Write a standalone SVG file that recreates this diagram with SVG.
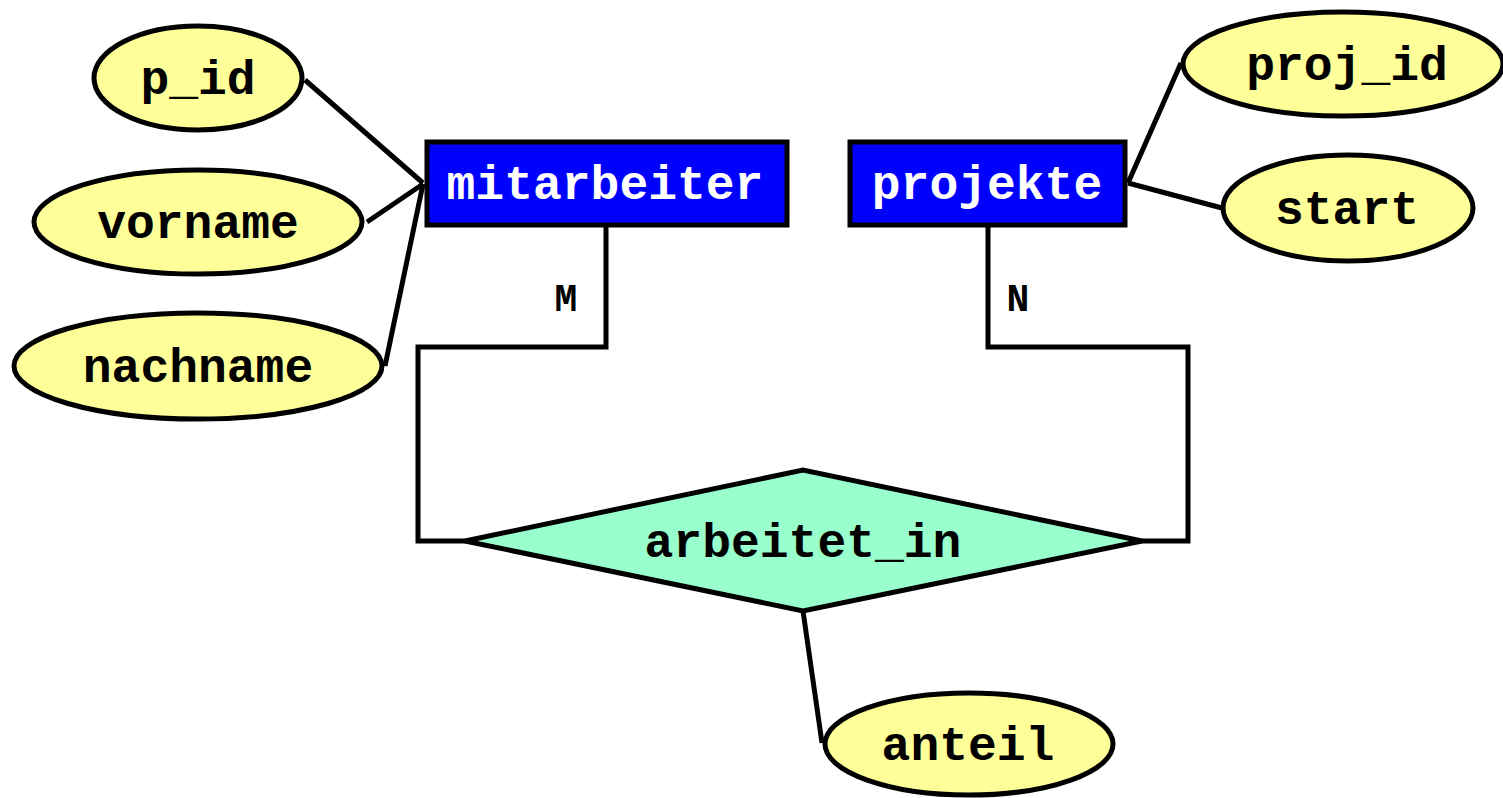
<svg xmlns="http://www.w3.org/2000/svg" width="1503" height="798" viewBox="0 0 1503 798">
  <style>
    .attr { fill: #ffff99; stroke: #000; stroke-width: 5; }
    .entity { fill: #0000ff; stroke: #000; stroke-width: 5; }
    .rel { fill: #99ffcc; stroke: #000; stroke-width: 5; stroke-linejoin: miter; }
    .lbl { font-family: "Liberation Mono", "Courier New", monospace; font-weight: bold; font-size: 48px; text-anchor: middle; fill: #000; }
    .lbl-w { fill: #fff; }
    .card { font-family: "Liberation Mono", "Courier New", monospace; font-weight: bold; font-size: 38px; text-anchor: middle; fill: #000; }
    .conn { fill: none; stroke: #000; stroke-width: 5; }
  </style>
  <rect width="1503" height="798" fill="#fff"/>

  <!-- connectors -->
  <g id="connectors">
    <line class="conn" x1="305" y1="80" x2="423" y2="183"/>
    <line class="conn" x1="367" y1="222" x2="423" y2="184"/>
    <line class="conn" x1="385" y1="366" x2="423" y2="184"/>
    <polyline class="conn" points="606,225 606,347 418,347 418,541 465,541"/>
    <polyline class="conn" points="988,225 988,347 1188,347 1188,541 1142,541"/>
    <line class="conn" x1="1128" y1="183" x2="1181" y2="63"/>
    <line class="conn" x1="1128" y1="183" x2="1222" y2="208"/>
    <line class="conn" x1="803" y1="611" x2="822" y2="743"/>
    <text class="card" x="566" y="311">M</text>
    <text class="card" x="1018" y="311">N</text>
  </g>

  <g id="p_id">
    <ellipse class="attr" cx="198" cy="78" rx="104" ry="52"/>
    <text class="lbl" x="198" y="94">p_id</text>
  </g>
  <g id="vorname">
    <ellipse class="attr" cx="198" cy="222" rx="164" ry="52"/>
    <text class="lbl" x="198" y="238">vorname</text>
  </g>
  <g id="nachname">
    <ellipse class="attr" cx="198" cy="366" rx="184" ry="53"/>
    <text class="lbl" x="198" y="382">nachname</text>
  </g>

  <g id="mitarbeiter">
    <rect class="entity" x="427" y="142" width="360" height="83"/>
    <text class="lbl lbl-w" x="605" y="199">mitarbeiter</text>
  </g>
  <g id="projekte">
    <rect class="entity" x="850" y="142" width="275" height="83"/>
    <text class="lbl lbl-w" x="987" y="199">projekte</text>
  </g>

  <g id="proj_id">
    <ellipse class="attr" cx="1343" cy="64" rx="160" ry="52"/>
    <text class="lbl" x="1347" y="80">proj_id</text>
  </g>
  <g id="start">
    <ellipse class="attr" cx="1348" cy="208" rx="125" ry="53"/>
    <text class="lbl" x="1347" y="224">start</text>
  </g>

  <g id="arbeitet_in">
    <polygon class="rel" points="465,541 803,470 1142,541 803,611"/>
    <text class="lbl" x="803" y="557">arbeitet_in</text>
  </g>

  <g id="anteil">
    <ellipse class="attr" cx="969" cy="744" rx="144" ry="51"/>
    <text class="lbl" x="968" y="760">anteil</text>
  </g>
</svg>
